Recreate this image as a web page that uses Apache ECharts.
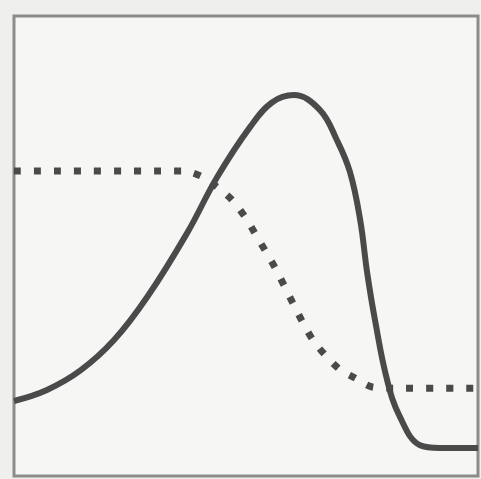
<!DOCTYPE html>
<html><head><meta charset="utf-8">
<script src="https://cdn.jsdelivr.net/npm/echarts@6/dist/echarts.min.js"></script>
<style>html,body{margin:0;padding:0;background:#efefed;}#c{width:481px;height:479px;}</style>
</head><body><div id="c"></div>
<script>
var solidX = [0, 7.1, 14.4, 21.6, 28.7, 37.3, 43.8, 50.9, 55.6, 60.3, 65.9, 69.6, 72.4, 74.6, 76.1, 77.8, 80.4, 83.2, 87.5, 91.8, 100];
var solidY = [16.3, 18.7, 23.0, 29.6, 38.9, 52.8, 65.0, 75.9, 81.2, 82.8, 79.6, 73.0, 66.1, 55.7, 44.3, 33.9, 20.9, 12.8, 6.7, 6.1, 6.1];
var dotX = [0, 36.4, 40.7, 43.8, 47.0, 49.8, 51.9, 56.3, 60.1, 64.4, 69.8, 73.5, 77.4, 81.7, 100];
var dotY = [66.3, 66.3, 65.0, 62.8, 60.0, 56.3, 52.8, 45.2, 37.6, 29.6, 23.5, 21.3, 19.3, 19.1, 19.1];
function pairs(xs, ys){ return xs.map(function(x,i){return [x, ys[i]];}); }
var chart = echarts.init(document.getElementById('c'));
chart.setOption({
  animation: false,
  backgroundColor: '#efefed',
  grid: {left: 14, top: 16, right: 3, bottom: 3, show: true, borderColor: '#8c8c8a', borderWidth: 3, backgroundColor: '#f6f6f4'},
  xAxis: {type: 'value', min: 0, max: 100, show: false},
  yAxis: {type: 'value', min: 0, max: 100, show: false},
  series: [
    {type: 'line', data: pairs(solidX, solidY), smooth: 0.4, symbol: 'none',
     lineStyle: {color: '#4a4a4a', width: 6}},
    {type: 'line', data: pairs(dotX, dotY), smooth: 0.3, symbol: 'none',
     lineStyle: {color: '#4a4a4a', width: 7, type: [7, 13], cap: 'butt'}}
  ]
});
</script></body></html>
